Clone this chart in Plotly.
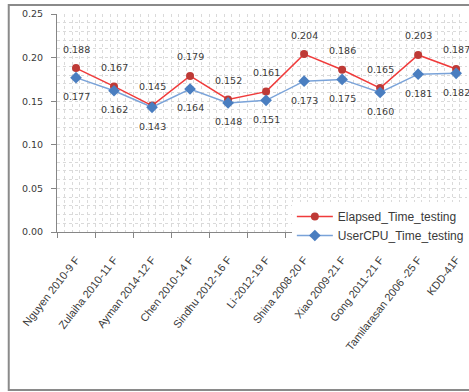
import plotly.graph_objects as go

# Testing-time comparison across feature-selection methods
categories = [
    "Nguyen 2010-9 F", "Zulaiha 2010-11 F", "Ayman 2014-12 F", "Chen 2010-14 F",
    "Sindhu 2012-16 F", "Li-2012-19 F", "Shina 2008-20 F", "Xiao 2009-21 F",
    "Gong 2011-21 F", "Tamilarasan 2006 -25 F", "KDD-41F",
]
elapsed_time = [0.188, 0.167, 0.145, 0.179, 0.152, 0.161, 0.204, 0.186, 0.165, 0.203, 0.187]
usercpu_time = [0.177, 0.162, 0.143, 0.164, 0.148, 0.151, 0.173, 0.175, 0.160, 0.181, 0.182]
y_ticks = [0.00, 0.05, 0.10, 0.15, 0.20, 0.25]

W, H = 469, 392
ML, MR, MT, MB = 57, 0, 14, 160
plot_w = W - ML - MR
plot_h = H - MT - MB
cat_px = 38.2
idx = list(range(len(categories)))
x_range = [-0.5, -0.5 + plot_w / cat_px]

RED_LINE, RED_MARK = "#F03B3B", "#BE3A36"
BLUE_LINE, BLUE_MARK = "#7AA3D9", "#4A7EC0"
GRID = "#DADADA"
AXIS = "#868686"
TXT = "#3A3A3A"

fig = go.Figure()
fig.add_trace(go.Scatter(
    x=idx, y=elapsed_time, name="Elapsed_Time_testing", mode="lines+markers",
    legendgroup="a",
    line=dict(color=RED_LINE, width=1.5),
    marker=dict(symbol="circle", size=8, color=RED_MARK),
))
fig.add_trace(go.Scatter(
    x=idx, y=usercpu_time, name="UserCPU_Time_testing", mode="lines+markers",
    legendgroup="b",
    line=dict(color=BLUE_LINE, width=1.5),
    marker=dict(symbol="diamond", size=9, color=BLUE_MARK),
))
# carrier for the boundary tick axis
fig.add_trace(go.Scatter(x=[None], y=[None], xaxis="x2", showlegend=False,
                         hoverinfo="skip"))

# value labels: elapsed above, user CPU below
for i, v in enumerate(elapsed_time):
    fig.add_annotation(x=i, y=v, text=f"{v:.3f}", showarrow=False, yshift=19,
                       font=dict(family="DejaVu Sans", size=9.5, color=TXT))
for i, v in enumerate(usercpu_time):
    fig.add_annotation(x=i, y=v, text=f"{v:.3f}", showarrow=False, yshift=-19,
                       font=dict(family="DejaVu Sans", size=9.5, color=TXT))

# outer chart frame
fig.add_shape(type="rect", xref="paper", yref="paper",
              x0=(8.5 - ML) / plot_w, x1=1.2,
              y0=-(390 - (H - MB)) / plot_h, y1=1 + (MT - 5) / plot_h,
              line=dict(color="#8A8A8A", width=2), layer="above")

fig.update_layout(
    width=W, height=H,
    margin=dict(l=ML, r=MR, t=MT, b=MB),
    paper_bgcolor="white", plot_bgcolor="white",
    showlegend=True,
    legend=dict(
        x=(293 - ML) / plot_w, y=(H - MB - 202) / plot_h,
        xanchor="left", yanchor="top",
        bgcolor="white", borderwidth=0,
        font=dict(family="Liberation Sans", size=12, color=TXT),
        tracegroupgap=6, traceorder="normal",
        itemwidth=36,
    ),
    xaxis=dict(
        range=x_range, tickmode="array", tickvals=idx, ticktext=categories,
        tickangle=-52, ticks="", showgrid=False, zeroline=False,
        showline=True, linecolor=AXIS, linewidth=1,
        ticklabelstandoff=16,
        tickfont=dict(family="Liberation Sans", size=11, color=TXT),
        minor=dict(tick0=-0.5, dtick=0.2, showgrid=True, gridcolor=GRID,
                   griddash="dot", gridwidth=1, ticks=""),
    ),
    xaxis2=dict(
        overlaying="x", range=x_range, tickmode="array",
        tickvals=[i - 0.5 for i in range(len(categories) + 1)],
        ticks="outside", ticklen=5, tickcolor=AXIS, showticklabels=False,
        showgrid=False, zeroline=False, showline=False,
    ),
    yaxis=dict(
        range=[0, 0.25], tickmode="array", tickvals=y_ticks,
        ticktext=[f"{t:.2f}" for t in y_ticks],
        ticks="outside", ticklen=5, tickcolor=AXIS,
        showline=True, linecolor=AXIS, linewidth=1, zeroline=False,
        showgrid=True, gridcolor=GRID, griddash="dot", gridwidth=1,
        ticklabelstandoff=6,
        tickfont=dict(family="DejaVu Sans", size=9.5, color=TXT),
        minor=dict(dtick=0.01, showgrid=True, gridcolor=GRID, griddash="dot",
                   gridwidth=1, ticks=""),
    ),
)

fig.write_html("out.html")
